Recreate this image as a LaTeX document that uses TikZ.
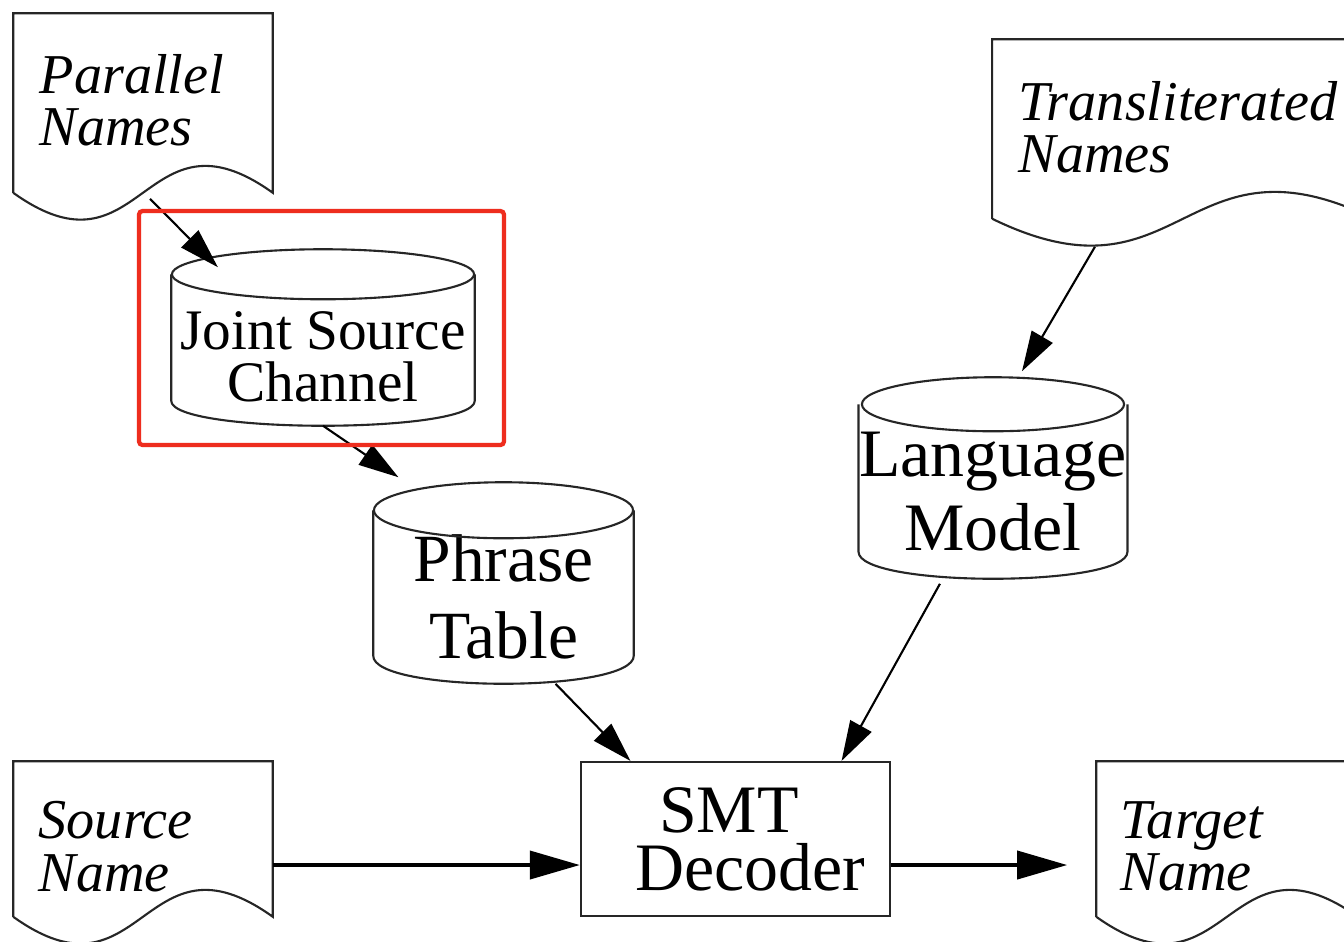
\documentclass[tikz,border=0pt]{standalone}
\usepackage{fontspec}
\setmainfont{Liberation Serif}
\usetikzlibrary{arrows.meta}

\definecolor{hilite}{RGB}{238,45,30}

\tikzset{
  shapeline/.style={draw=black!85, line width=0.6pt},
  docbox/.style={rectangle, inner sep=0pt},
  doctext/.style={inner sep=0pt, align=left, anchor=north west, font=\itshape\fontsize{16}{14.8}\selectfont},
  dbnode/.style={rectangle, inner sep=0pt, align=center}
}

% cylinder outline round a node: name, y radius, x radius
\newcommand{\dbshape}[3]{%
  \draw[shapeline] (#1.north) ellipse [x radius=#3, y radius=#2];
  \draw[shapeline] (#1.north west) -- ([yshift=#2]#1.south west)
    .. controls ([yshift=-#2/3]#1.south west) and ([yshift=-#2/3]#1.south east)
    .. ([yshift=#2]#1.south east) -- (#1.north east);
}
% document outline with wavy bottom: name, wave depth
\newcommand{\docshape}[2]{%
  \draw[shapeline] (#1.south west) -- (#1.north west) -- (#1.north east) -- (#1.south east)
    .. controls ([yshift=#2]#1.south) and ([yshift=-#2]#1.south) .. (#1.south west);
}

\begin{document}
\begin{tikzpicture}[x=0.01cm, y=-0.01cm, >={Triangle[length=0.4cm, width=0.24cm]}]
\useasboundingbox (0,0) rectangle (1344,941);
\clip (0,0) rectangle (1344,941);
\fill[white] (0,0) rectangle (1344,941);

% documents
\node (parallel) [docbox, minimum width=2.58cm, minimum height=1.78cm] at (143,103) {};
\node (paralleltext) [doctext] at (39,54) {Parallel\\Names};
\node (transl) [docbox, minimum width=3.8cm, minimum height=1.78cm] at (1183,129) {};
\node (transltext) [doctext] at (1018,81) {Transliterated\\Names};
\node (source) [docbox, minimum width=2.58cm, minimum height=1.54cm] at (143,839) {};
\node (sourcetext) [doctext] at (38,801) {Source\\Name};
\node (target) [docbox, minimum width=2.6cm, minimum height=1.54cm] at (1227,839) {};
\node (targettext) [doctext] at (1120,801) {Target\\Name};
\docshape{parallel}{0.93cm}
\docshape{transl}{0.93cm}
\docshape{source}{0.93cm}
\docshape{target}{0.93cm}

% databases
\node (joint) [dbnode, minimum width=3.02cm, minimum height=1.5cm, font=\fontsize{16.3}{14.8}\selectfont] at (323,350) {\raisebox{-0.07cm}[\height][\depth]{Joint Source}\\\raisebox{-0.07cm}[\height][\depth]{Channel}};
\node (phrase) [dbnode, minimum width=2.59cm, minimum height=1.72cm, font=\fontsize{19.2}{21.9}\selectfont] at (503.5,597) {Phrase\\Table};
\node (language) [dbnode, minimum width=2.62cm, minimum height=1.73cm, font=\fontsize{19.3}{21}\selectfont] at (993,491.5) {Language\\Model};
\dbshape{joint}{0.25cm}{1.51cm}
\dbshape{phrase}{0.28cm}{1.295cm}
\dbshape{language}{0.27cm}{1.31cm}

% decoder
\node (smt) [rectangle, shapeline, inner sep=0pt, align=center, minimum width=3.09cm, minimum height=1.54cm, font=\fontsize{19.3}{16.5}\selectfont] at (735.5,839) {SMT\rule{0.13cm}{0pt}\\\rule{0.29cm}{0pt}Decoder};

\draw [->, line width=0.6pt] ([xshift=0.07cm, yshift=-0.06cm]parallel.south) -- ([xshift=-1.05cm, yshift=0.07cm]joint.north);
\draw [->, line width=0.6pt] (joint.south) -- ([xshift=-1.05cm, yshift=0.33cm]phrase.north);
\draw [->, line width=0.6pt] ([xshift=-0.88cm, yshift=-0.28cm]transl.south) -- ([xshift=0.29cm, yshift=0.33cm]language.north);
\draw [->, line width=0.6pt] ([xshift=0.52cm]phrase.south) -- ([xshift=-1.05cm]smt.north);
\draw [->, line width=0.6pt] ([xshift=-0.53cm, yshift=-0.05cm]language.south) -- ([xshift=1.06cm]smt.north);
\draw [-{Triangle[length=0.5cm, width=0.28cm]}, line width=1.1pt] ([yshift=-0.26cm]source.east) -- ([yshift=-0.26cm]smt.west);
\draw [-{Triangle[length=0.5cm, width=0.28cm]}, line width=1.1pt] ([yshift=-0.26cm]smt.east) -- ([xshift=-0.29cm, yshift=-0.26cm]target.west);

% highlight
\draw [hilite, line width=1.2pt, rounded corners=1pt] (139,211) rectangle (504,445);
\end{tikzpicture}
\end{document}
